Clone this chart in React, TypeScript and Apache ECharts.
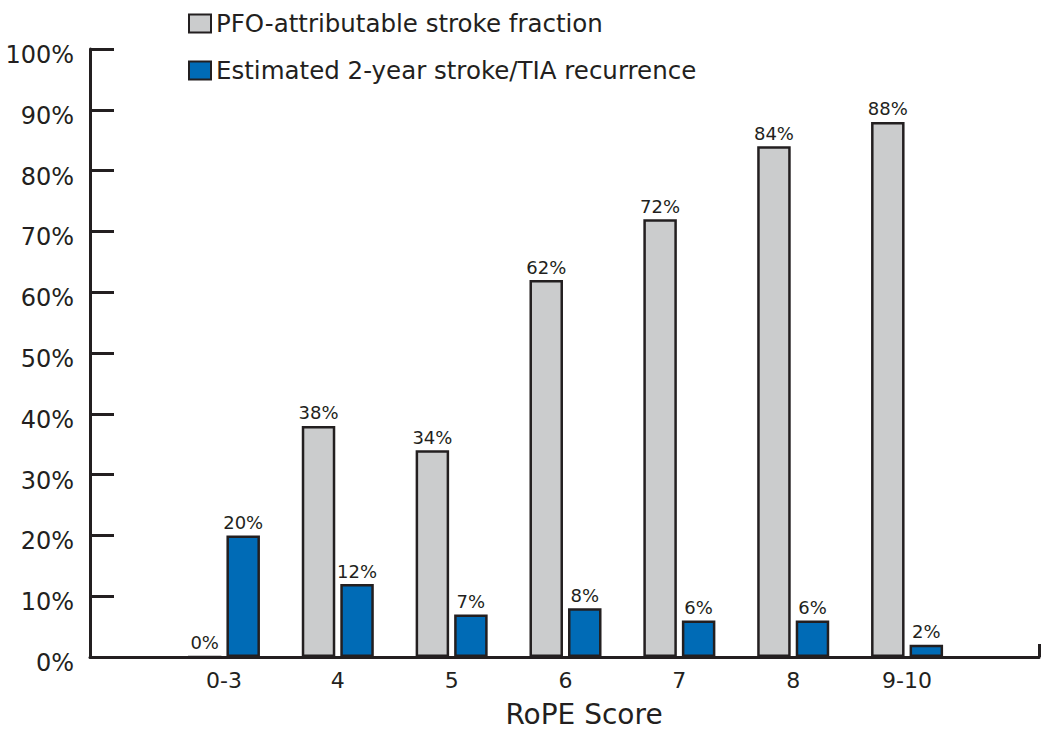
import React, { useEffect, useRef } from "react";
import * as echarts from "echarts";

const categories = ["0-3", "4", "5", "6", "7", "8", "9-10"];
const pfoFraction = [0, 38, 34, 62, 72, 84, 88];
const recurrence = [20, 12, 7, 8, 6, 6, 2];
const yTicks = [0, 10, 20, 30, 40, 50, 60, 70, 80, 90, 100];

const INK = "#231f20";
const FONT = "DejaVu Sans";

export default function App() {
  const ref = useRef<HTMLDivElement>(null);
  useEffect(() => {
    if (!ref.current) return;
    const chart = echarts.init(ref.current, null, { renderer: "svg" });
    const top = 49;
    const bottom = 77;
    const barLabel = {
      show: true,
      position: "top",
      distance: 4,
      fontFamily: FONT,
      fontSize: 18,
      color: INK,
      formatter: "{c}%",
    };
    chart.setOption({
      animation: false,
      backgroundColor: "#ffffff",
      textStyle: { fontFamily: FONT, color: INK },
      legend: {
        orient: "vertical",
        left: 183,
        top: 6,
        icon: "rect",
        itemWidth: 22,
        itemHeight: 18,
        itemGap: 22,
        textStyle: { fontFamily: FONT, fontSize: 24.5, color: INK },
        data: ["PFO-attributable stroke fraction", "Estimated 2-year stroke/TIA recurrence"],
      },
      grid: [
        { left: 90, right: 5, top, bottom, containLabel: false },
        { left: 167, right: 80, top, bottom, containLabel: false },
      ],
      xAxis: [
        {
          gridIndex: 0,
          type: "value",
          min: 0,
          max: 1,
          interval: 1,
          axisLine: { show: true, lineStyle: { color: INK, width: 3 } },
          axisTick: { show: true, inside: true, length: 13, lineStyle: { color: INK, width: 3 } },
          axisLabel: { show: false },
          splitLine: { show: false },
        },
        {
          gridIndex: 1,
          type: "category",
          data: categories,
          axisLine: { show: false },
          axisTick: { show: false },
          axisLabel: { fontFamily: FONT, fontSize: 22, color: INK, margin: 12 },
        },
      ],
      yAxis: [
        {
          gridIndex: 0,
          type: "value",
          min: 0,
          max: 100,
          interval: 10,
          axisLine: { show: true, lineStyle: { color: INK, width: 3 } },
          axisTick: { show: true, inside: true, length: 24, lineStyle: { color: INK, width: 3 } },
          axisLabel: {
            fontFamily: FONT,
            fontSize: 24,
            color: INK,
            margin: 16,
            verticalAlign: "top",
            lineHeight: 12,
            formatter: (v: number) => (yTicks.includes(v) ? v + "%" : ""),
          },
          splitLine: { show: false },
        },
        {
          gridIndex: 1,
          type: "value",
          min: 0,
          max: 100,
          interval: 10,
          show: false,
        },
      ],
      series: [
        {
          name: "PFO-attributable stroke fraction",
          type: "bar",
          xAxisIndex: 1,
          yAxisIndex: 1,
          data: pfoFraction,
          barWidth: 33.5,
          barGap: "15%",
          itemStyle: { color: "#cbcccd", borderColor: INK, borderWidth: 2.5 },
          label: barLabel,
        },
        {
          name: "Estimated 2-year stroke/TIA recurrence",
          type: "bar",
          xAxisIndex: 1,
          yAxisIndex: 1,
          data: recurrence,
          barWidth: 33.5,
          barGap: "15%",
          itemStyle: { color: "#006bb6", borderColor: INK, borderWidth: 2.5 },
          label: barLabel,
        },
      ],
      graphic: [
        {
          type: "text",
          x: 584,
          y: 714,
          style: {
            text: "RoPE Score",
            fontFamily: FONT,
            fontSize: 28,
            fill: INK,
            textAlign: "center",
            textVerticalAlign: "middle",
          },
        },
      ],
    });
    return () => chart.dispose();
  }, []);
  return (
    <div
      ref={ref}
      style={{ position: "fixed", left: 0, top: 0, width: 1044, height: 734 }}
    />
  );
}
